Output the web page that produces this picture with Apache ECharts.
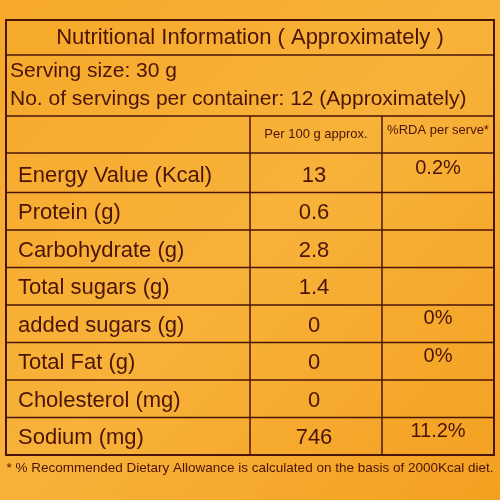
<!DOCTYPE html>
<html><head><meta charset="utf-8">
<script src="https://cdn.jsdelivr.net/npm/echarts@6/dist/echarts.min.js"></script>
<style>html,body{margin:0;padding:0}#c{width:500px;height:500px}</style>
</head><body><div id="c"></div>
<script>
var title = 'Nutritional Information ( Approximately )';
var servingLines = ['Serving size: 30 g', 'No. of servings per container: 12 (Approximately)'];
var headers = ['Per 100 g approx.', '%RDA per serve*'];
var nutrients = ['Energy Value (Kcal)', 'Protein (g)', 'Carbohydrate (g)', 'Total sugars (g)',
    'added sugars (g)', 'Total Fat (g)', 'Cholesterol (mg)', 'Sodium (mg)'];
var per100 = ['13', '0.6', '2.8', '1.4', '0', '0', '0', '746'];
var rda = ['0.2%', '', '', '', '0%', '0%', '', '11.2%'];
var footnote = '* % Recommended Dietary Allowance is calculated on the basis of 2000Kcal diet.';

var ink = '#4a1408';
var font = '"Liberation Sans Narrow", "Liberation Sans", Arial, sans-serif';
var L = 6, R = 494, c1 = 250, c2 = 382;
var rowTop = 155, rowH = 37.5;
var els = [];

function line(x1, y1, x2, y2, w) {
    els.push({type: 'line', shape: {x1: x1, y1: y1, x2: x2, y2: y2}, style: {stroke: ink, lineWidth: w || 1.5}});
}
function text(t, x, y, size, align) {
    els.push({type: 'text', x: x, y: y, style: {text: t, fill: ink, font: size + 'px ' + font,
        textAlign: align || 'left', textVerticalAlign: 'middle'}});
}

els.push({type: 'rect', shape: {x: 0, y: 0, width: 500, height: 500}, style: {
    fill: new echarts.graphic.LinearGradient(0, 0, 1, 1, [
        {offset: 0, color: '#f6a92a'}, {offset: 0.5, color: '#f8b23a'}, {offset: 1, color: '#f3a020'}])}});

// frame
els.push({type: 'rect', shape: {x: L, y: 20, width: R - L, height: 435}, style: {fill: 'none', stroke: ink, lineWidth: 2}});
line(L, 55, R, 55);
line(L, 116, R, 116);
line(c1, 116, c1, 455);
line(c2, 116, c2, 455);
line(L, 153, R, 153);

text(title, 250, 38, 22, 'center');
text(servingLines[0], 10, 71, 21);
text(servingLines[1], 10, 99, 21);
text(headers[0], 316, 134, 13, 'center');
text(headers[1], 438, 130, 13, 'center');

nutrients.forEach(function (n, i) {
    var y = rowTop + i * rowH;
    if (i > 0) line(L, y, R, y);
    text(n, 18, y + rowH / 2 + 2, 22);
    text(per100[i], 314, y + rowH / 2 + 2, 22, 'center');
    if (rda[i]) text(rda[i], 438, y + rowH / 2 - 5, 20, 'center');
});

text(footnote, 250, 468, 13.5, 'center');

echarts.init(document.getElementById('c')).setOption({graphic: {elements: els}});
</script></body></html>
